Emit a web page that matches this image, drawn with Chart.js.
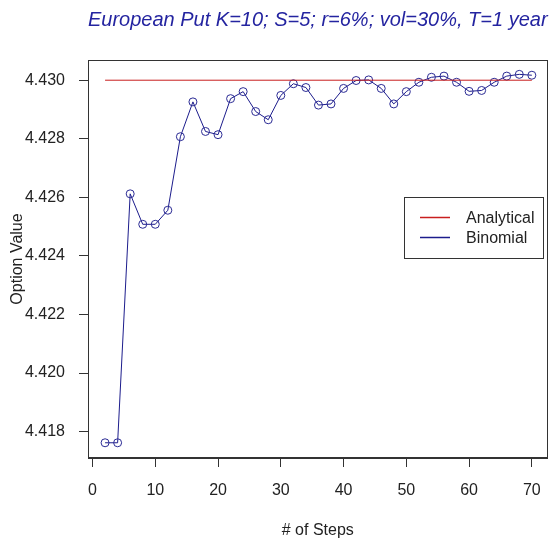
<!DOCTYPE html>
<html>
<head>
<meta charset="utf-8">
<title>European Put - Binomial vs Analytical</title>
<script src="https://cdn.jsdelivr.net/npm/chart.js@4/dist/chart.umd.min.js"></script>
<style>
  body { margin: 0; background: #fff; }
  #wrap { width: 555px; height: 543px; }
</style>
</head>
<body>
<div id="wrap"><canvas id="optChart" width="555" height="543"></canvas></div>
<script>
// ---------------- data ----------------
const titleText = "European Put K=10; S=5; r=6%; vol=30%, T=1 year";
const xTitle = "# of Steps";
const yTitle = "Option Value";

const steps = [2, 4, 6, 8, 10, 12, 14, 16, 18, 20, 22, 24, 26, 28, 30, 32, 34, 36,
               38, 40, 42, 44, 46, 48, 50, 52, 54, 56, 58, 60, 62, 64, 66, 68, 70];
const binomial = [4.41762, 4.41762, 4.42612, 4.42508, 4.42508, 4.42556, 4.42807, 4.42926,
                  4.42825, 4.42814, 4.42937, 4.42961, 4.42893, 4.42865, 4.42948, 4.42988,
                  4.42975, 4.42915, 4.42919, 4.42972, 4.42999, 4.43001, 4.42972, 4.42919,
                  4.42961, 4.42993, 4.43010, 4.43014, 4.42993, 4.42962, 4.42965, 4.42993,
                  4.43014, 4.43020, 4.43017];

const analyticalSteps = [2, 70];
const analyticalValues = [4.4300, 4.4300];

const xTicks = [0, 10, 20, 30, 40, 50, 60, 70];
const yTicks = [4.418, 4.420, 4.422, 4.424, 4.426, 4.428, 4.430];

// ---------------- look ----------------
const FONT = "'Liberation Sans', Arial, sans-serif";
const red = '#c81e1e';
const navy = '#1c1c8c';
const axisCol = '#333333';

function toPoints(xs, ys) {
  return xs.map((x, i) => ({ x: x, y: ys[i] }));
}

// white background
const bgPlugin = {
  id: 'bg',
  beforeDraw(chart) {
    const ctx = chart.ctx;
    ctx.save();
    ctx.fillStyle = '#fff';
    ctx.fillRect(0, 0, chart.width, chart.height);
    ctx.restore();
  }
};

// R style box around the plot region
const framePlugin = {
  id: 'frame',
  afterDraw(chart) {
    const a = chart.chartArea;
    const ctx = chart.ctx;
    ctx.save();
    ctx.strokeStyle = axisCol;
    ctx.lineWidth = 1;
    ctx.strokeRect(Math.round(a.left) + 0.5, Math.round(a.top) + 0.5,
                   Math.round(a.right - a.left) - 1, Math.round(a.bottom - a.top) - 1);
    ctx.restore();
  }
};

// legend box drawn inside the plot (top right)
const insideLegend = {
  id: 'insideLegend',
  afterDraw(chart) {
    const a = chart.chartArea;
    const ctx = chart.ctx;
    const w = 139, h = 61;
    const left = Math.round(a.right) - 5 - w;
    const top = Math.round(a.top) + 137;
    ctx.save();
    ctx.fillStyle = '#fff';
    ctx.fillRect(left, top, w, h);
    ctx.strokeStyle = axisCol;
    ctx.lineWidth = 1;
    ctx.strokeRect(left + 0.5, top + 0.5, w, h);
    ctx.font = '16px ' + FONT;
    ctx.textBaseline = 'middle';
    chart.data.datasets.forEach((ds, i) => {
      const y = top + 20.5 + i * 20;
      ctx.strokeStyle = ds.borderColor;
      ctx.lineWidth = 1.5;
      ctx.beginPath();
      ctx.moveTo(left + 16, y);
      ctx.lineTo(left + 46, y);
      ctx.stroke();
      ctx.fillStyle = '#222';
      ctx.fillText(ds.label, left + 62, y + 1);
    });
    ctx.restore();
  }
};

new Chart('optChart', {
  type: 'line',
  data: {
    datasets: [{
      label: 'Analytical',
      data: toPoints(analyticalSteps, analyticalValues),
      borderColor: red,
      borderWidth: 1,
      pointRadius: 0
    }, {
      label: 'Binomial',
      data: toPoints(steps, binomial),
      borderColor: navy,
      borderWidth: 1,
      pointRadius: 4,
      pointBorderColor: '#2b2b95',
      pointBorderWidth: 1,
      pointBackgroundColor: 'rgba(0,0,0,0)',
      tension: 0
    }]
  },
  options: {
    responsive: false,
    animation: false,
    layout: { padding: { left: 0, right: 7, top: 0, bottom: 0 } },
    plugins: {
      legend: { display: false },
      tooltip: { enabled: false },
      title: {
        display: true,
        text: titleText,
        fullSize: false,
        color: '#2424a0',
        font: { family: FONT, size: 20, style: 'italic', weight: 'normal', lineHeight: 1.2 },
        padding: { top: 8, bottom: 28 }
      }
    },
    scales: {
      x: {
        type: 'linear',
        min: -0.72,
        max: 72.5,
        afterFit: s => { s.height = 85; },
        afterBuildTicks: s => { s.ticks = xTicks.map(v => ({ value: v })); },
        ticks: {
          color: '#222',
          font: { family: FONT, size: 16 },
          padding: 14,
          maxRotation: 0,
          autoSkip: false
        },
        grid: { drawOnChartArea: false, drawTicks: true, tickLength: 9, color: axisCol },
        border: { display: true, color: axisCol },
        title: {
          display: true,
          text: xTitle,
          color: '#222',
          font: { family: FONT, size: 16 },
          padding: { top: 0, bottom: 3 }
        }
      },
      y: {
        type: 'linear',
        min: 4.41710,
        max: 4.43069,
        afterFit: s => { s.width = 88; },
        afterBuildTicks: s => { s.ticks = yTicks.map(v => ({ value: v })); },
        ticks: {
          color: '#222',
          font: { family: FONT, size: 16 },
          padding: 14,
          autoSkip: false,
          callback: v => v.toFixed(3)
        },
        grid: { drawOnChartArea: false, drawTicks: true, tickLength: 9, color: axisCol },
        border: { display: true, color: axisCol },
        title: {
          display: true,
          text: yTitle,
          color: '#222',
          font: { family: FONT, size: 16 },
          padding: { top: 8, bottom: 0 }
        }
      }
    }
  },
  plugins: [bgPlugin, framePlugin, insideLegend]
});
</script>
</body>
</html>
